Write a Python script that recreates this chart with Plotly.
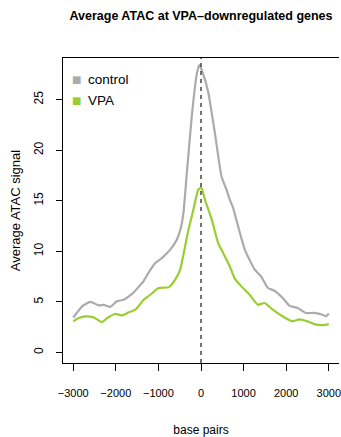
import plotly.graph_objects as go

# ---- data ----
control_bp = [-3000, -2900, -2790, -2600, -2400, -2285, -2130, -1975, -1820, -1695,
              -1587, -1460, -1354, -1229, -1073, -919, -723, -569, -480, -412,
              -335, -218, -101, -40, 54, 171, 326, 481, 598, 676,
              754, 831, 1026, 1259, 1414, 1570, 1725, 1919, 2076, 2269,
              2463, 2659, 2852, 2929, 3000]
control_val = [3.45, 4.0, 4.55, 5.0, 4.65, 4.7, 4.5, 5.05, 5.2, 5.55,
               5.9, 6.5, 7.0, 7.9, 8.84, 9.33, 10.16, 11.15, 12.2, 13.8,
               17.6, 23.3, 27.5, 28.45, 27.5, 25.7, 21.7, 17.4, 16.1, 15.1,
               14.3, 13.1, 10.2, 8.2, 7.5, 6.37, 6.1, 5.38, 4.62, 4.39,
               3.9, 3.9, 3.73, 3.56, 3.85]

vpa_bp = [-3000, -2868, -2714, -2519, -2325, -2169, -2015, -1859, -1695, -1539,
          -1346, -1189, -996, -763, -606, -490, -373, -296, -180, -63,
          7, 93, 248, 403, 520, 676, 793, 948, 1143, 1336,
          1492, 1686, 1959, 2152, 2309, 2502, 2657, 2852, 3000]
vpa_val = [3.07, 3.4, 3.56, 3.46, 3.0, 3.5, 3.8, 3.66, 3.96, 4.22,
           5.2, 5.7, 6.37, 6.43, 7.19, 8.18, 10.5, 12.1, 14.1, 16.1,
           16.3, 15.1, 13.2, 10.8, 9.83, 8.5, 7.3, 6.53, 5.7, 4.72,
           4.88, 4.22, 3.45, 3.07, 3.27, 3.07, 2.8, 2.7, 2.8]

series_names = ["control", "VPA"]
series_colors = ["#ababab", "#9acd32"]

x_ticks = [-3000, -2000, -1000, 0, 1000, 2000, 3000]
y_ticks = [0, 5, 10, 15, 20, 25]

FONT = "Liberation Sans, Arial, sans-serif"

fig = go.Figure()
for name, xs, ys, col in zip(series_names, [control_bp, vpa_bp], [control_val, vpa_val], series_colors):
    fig.add_trace(go.Scatter(x=xs, y=ys, mode="lines", name=name,
                             line=dict(color=col, width=2.2, shape="spline", smoothing=0.5),
                             showlegend=False))

# vertical dashed line at TSS
fig.add_shape(type="line", xref="x", yref="paper", x0=0, x1=0, y0=0, y1=1,
              line=dict(color="#444444", width=1.5, dash="4px,4px"))

# manual legend (square keys, R style)
leg_y = [0.929, 0.862]
for name, col, yy in zip(series_names, series_colors, leg_y):
    fig.add_annotation(xref="paper", yref="paper", x=0.050, y=yy, text="■",
                       showarrow=False, font=dict(size=10, color=col, family="DejaVu Sans"),
                       xanchor="center", yanchor="middle")
    fig.add_annotation(xref="paper", yref="paper", x=0.083, y=yy, text=name,
                       showarrow=False, font=dict(size=13.5, color="black", family=FONT),
                       xanchor="left", yanchor="middle")

fig.update_layout(
    width=341, height=437,
    margin=dict(l=63, r=0, t=58, b=74),
    paper_bgcolor="white", plot_bgcolor="white",
    font=dict(family=FONT, color="black"),
    title=dict(text="<b>Average ATAC at VPA\u2013downregulated genes</b>",
               x=0.5, xref="paper", xanchor="center",
               y=1 - 16 / 437, yref="container", yanchor="middle",
               font=dict(size=12.5, family=FONT, color="black")),
)
fig.update_xaxes(range=[-3240, 3240], tickvals=x_ticks, ticks="outside", ticklen=7,
                 tickcolor="black", showline=True, linecolor="black", linewidth=1,
                 mirror=True, showgrid=False, zeroline=False,
                 tickfont=dict(size=11), ticklabelstandoff=13, ticklabeloverflow="allow",
                 title=dict(text="base pairs", font=dict(size=12), standoff=27))
fig.update_yaxes(range=[-1.05, 29.12], tickvals=y_ticks, ticks="outside", ticklen=6,
                 tickcolor="black", showline=True, linecolor="black", linewidth=1,
                 showgrid=False, zeroline=False, tickangle=-90,
                 tickfont=dict(size=12), ticklabelstandoff=8,
                 title=dict(text="Average ATAC signal", font=dict(size=13), standoff=8))

fig.write_html("out.html")
